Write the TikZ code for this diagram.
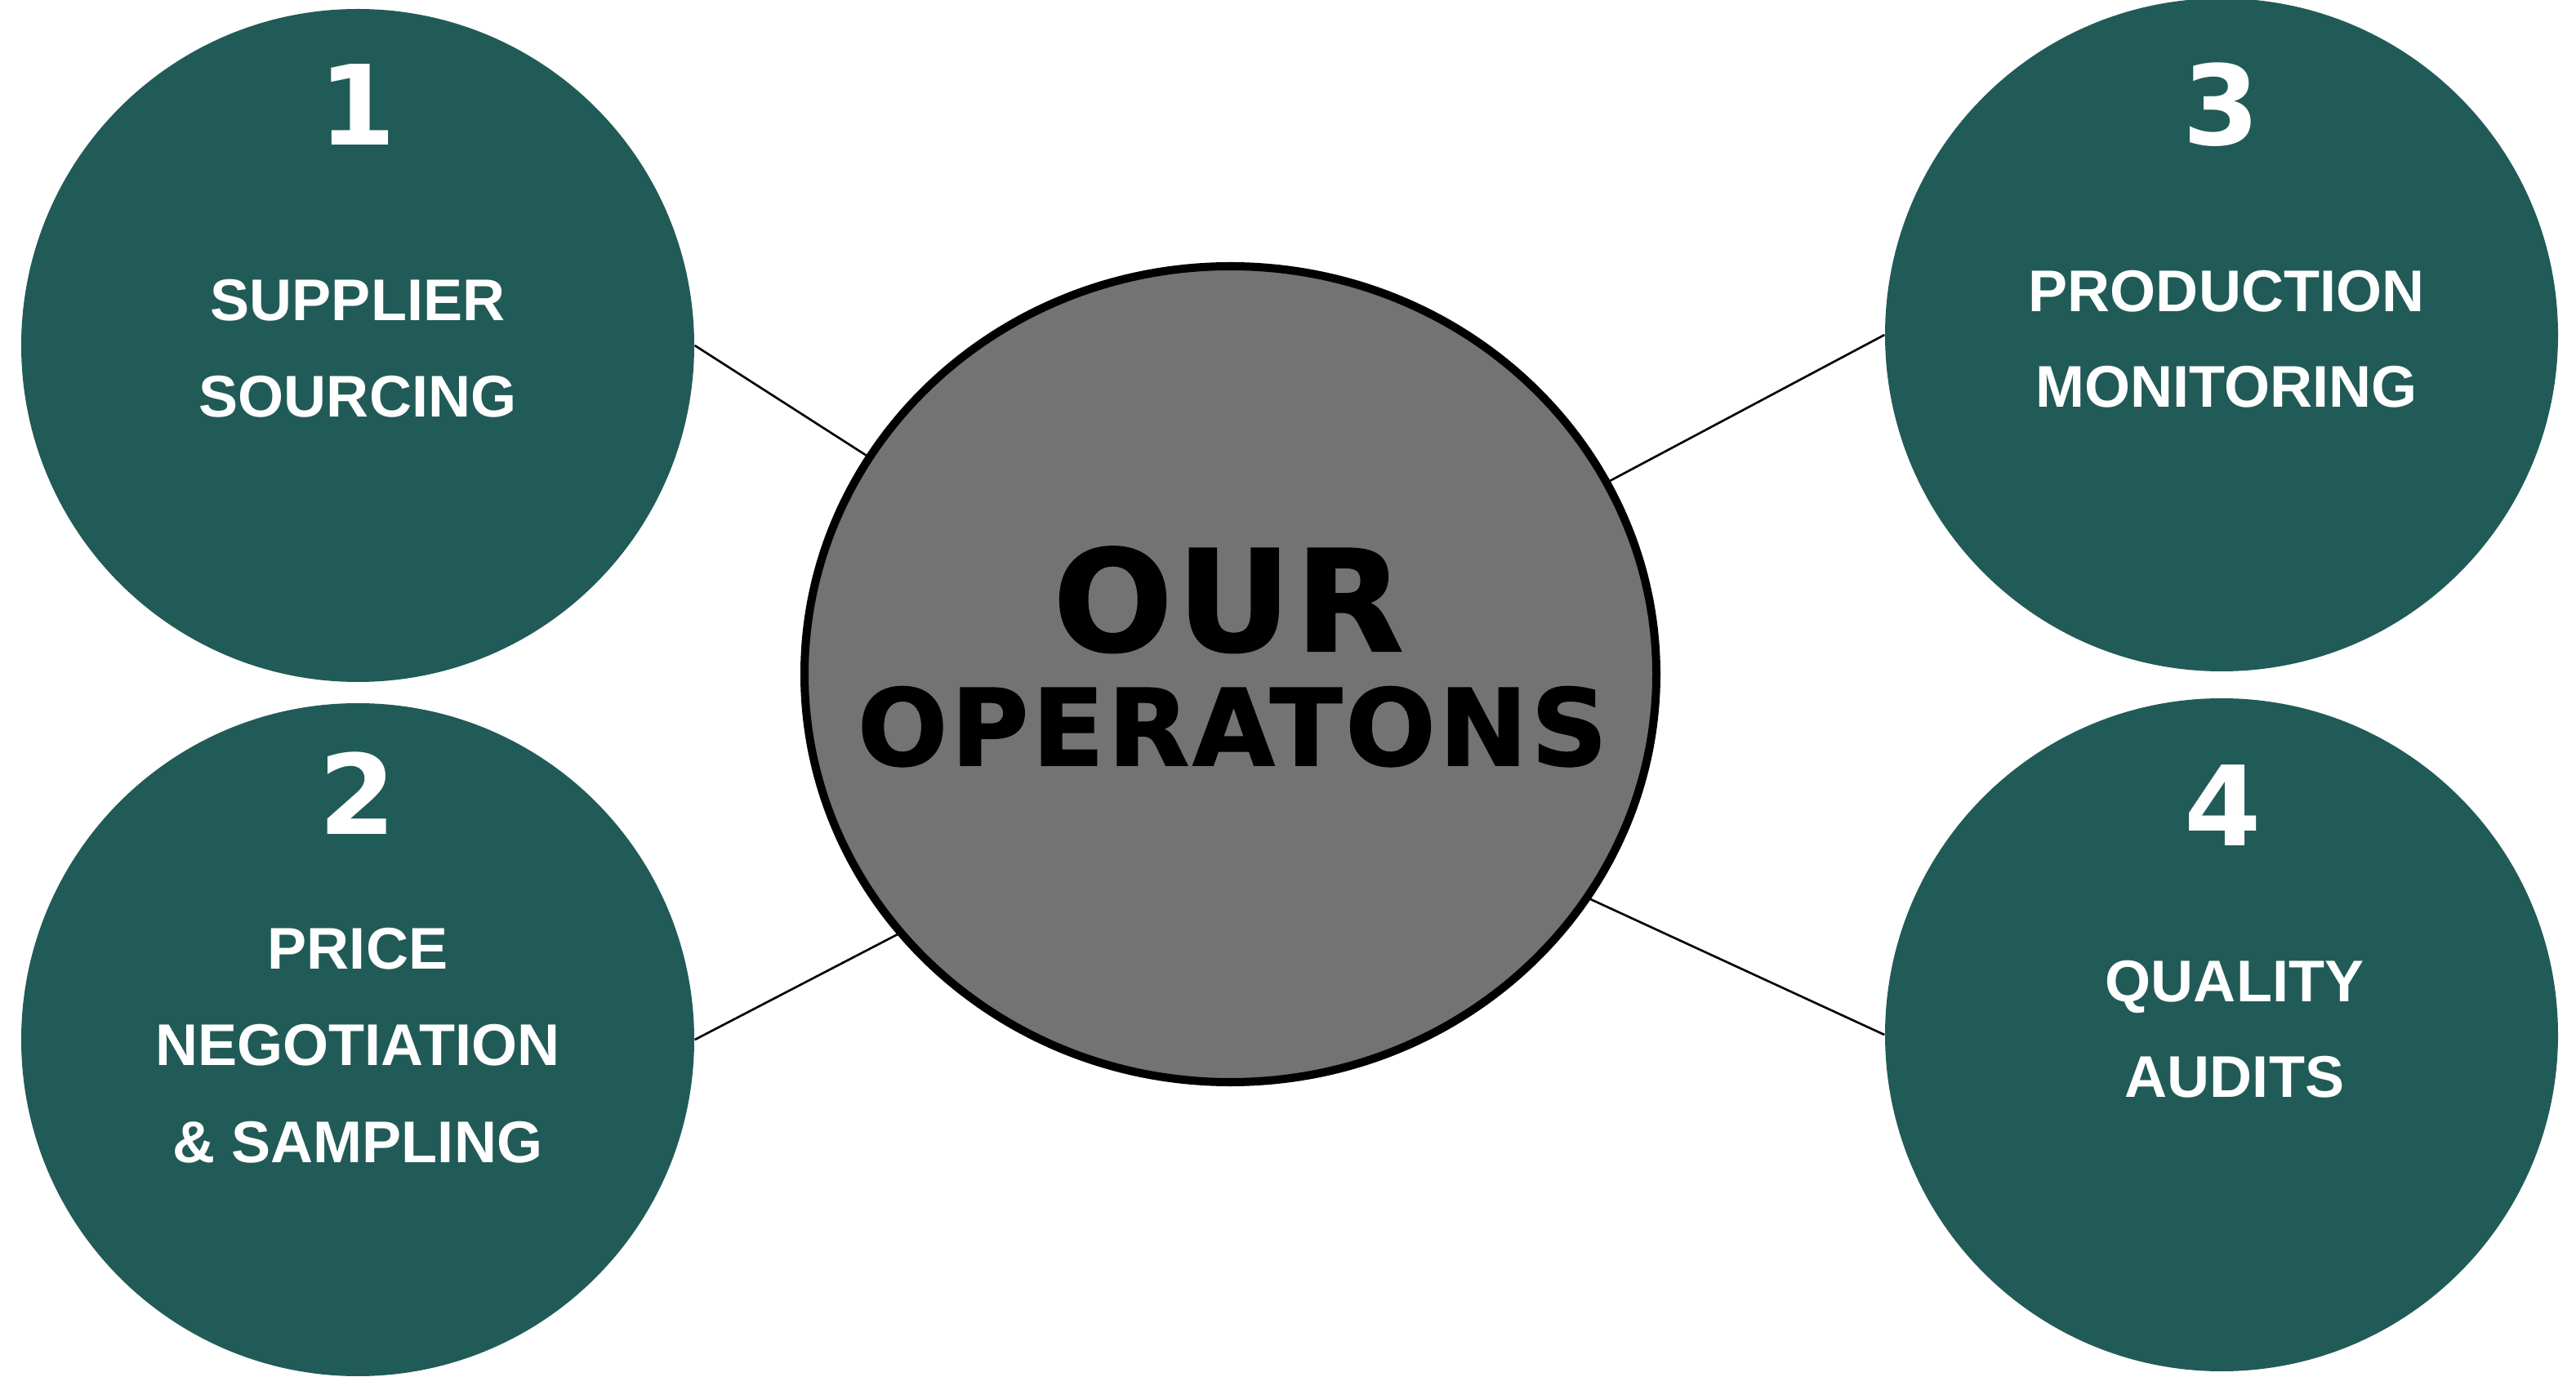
\documentclass[tikz,border=0pt]{standalone}
\usepackage{fontspec}
\usepackage{xcolor}
\usetikzlibrary{shapes.geometric}
\newfontfamily\labelfont{Liberation Sans}
\newfontfamily\headfont{DejaVu Sans}
\newfontfamily\hubfont{DejaVu Sans}[BoldFeatures={FakeBold=1.2,LetterSpace=3}]
\definecolor{stagegreen}{HTML}{215B57}
\definecolor{hubgray}{HTML}{737373}

\begin{document}
\begin{tikzpicture}[
    stage/.style={circle,fill=stagegreen,minimum size=8.24cm,inner sep=0pt},
    hub/.style={ellipse,draw=black,line width=2.85pt,fill=hubgray,
        minimum width=10.43cm,minimum height=9.99cm,inner sep=0pt},
    num/.style={text=white,anchor=base,inner sep=0pt,
        font=\headfont\bfseries\fontsize{38.6}{40}\selectfont},
    lbl/.style={text=white,anchor=base,inner sep=0pt,
        font=\labelfont\bfseries\fontsize{20.5}{24}\selectfont},
    link/.style={line width=0.75pt}
]
    \useasboundingbox (0,0) rectangle (31.54,16.85);

    % the four stages and the hub
    \node[stage] (c1) at (4.38,12.62) {};
    \node[stage] (c2) at (4.38,4.12) {};
    \node[stage] (c3) at (27.20,12.75) {};
    \node[stage] (c4) at (27.20,4.18) {};
    \node[hub] (hub) at (15.065,8.595) {};

    \draw[link] (c1.east) -- (hub.149);
    \draw[link] (c2.east) -- (hub.218.7);
    \draw[link] (c3.west) -- (hub.27.6);
    \draw[link] (c4.west) -- (hub.328.2);

    % stage 1
    \node[num] (n1) at (4.38,15.07) {1};
    \node[lbl] (t1a) at (4.38,12.92) {SUPPLIER};
    \node[lbl] (t1b) at (4.38,11.74) {SOURCING};

    % stage 2
    \node[num] (n2) at (4.38,6.63) {2};
    \node[lbl] (t2a) at (4.38,4.98) {PRICE};
    \node[lbl] (t2b) at (4.38,3.80) {NEGOTIATION};
    \node[lbl] (t2c) at (4.38,2.62) {\& SAMPLING};

    % stage 3
    \node[num] (n3) at (27.20,15.07) {3};
    \node[lbl] (t3a) at (27.26,13.03) {PRODUCTION};
    \node[lbl] (t3b) at (27.26,11.86) {MONITORING};

    % stage 4
    \node[num] (n4) at (27.22,6.49) {4};
    \node[lbl] (t4a) at (27.36,4.58) {QUALITY};
    \node[lbl] (t4b) at (27.36,3.41) {AUDITS};

    % hub title
    \node[anchor=base,inner sep=0pt,font=\hubfont\bfseries\fontsize{49}{50}\selectfont]
        (h1) at (15.04,8.88) {OUR};
    \node[anchor=base,inner sep=0pt,font=\hubfont\bfseries\fontsize{37}{40}\selectfont]
        (h2) at (15.09,7.48) {OPERATONS};
\end{tikzpicture}
\end{document}
